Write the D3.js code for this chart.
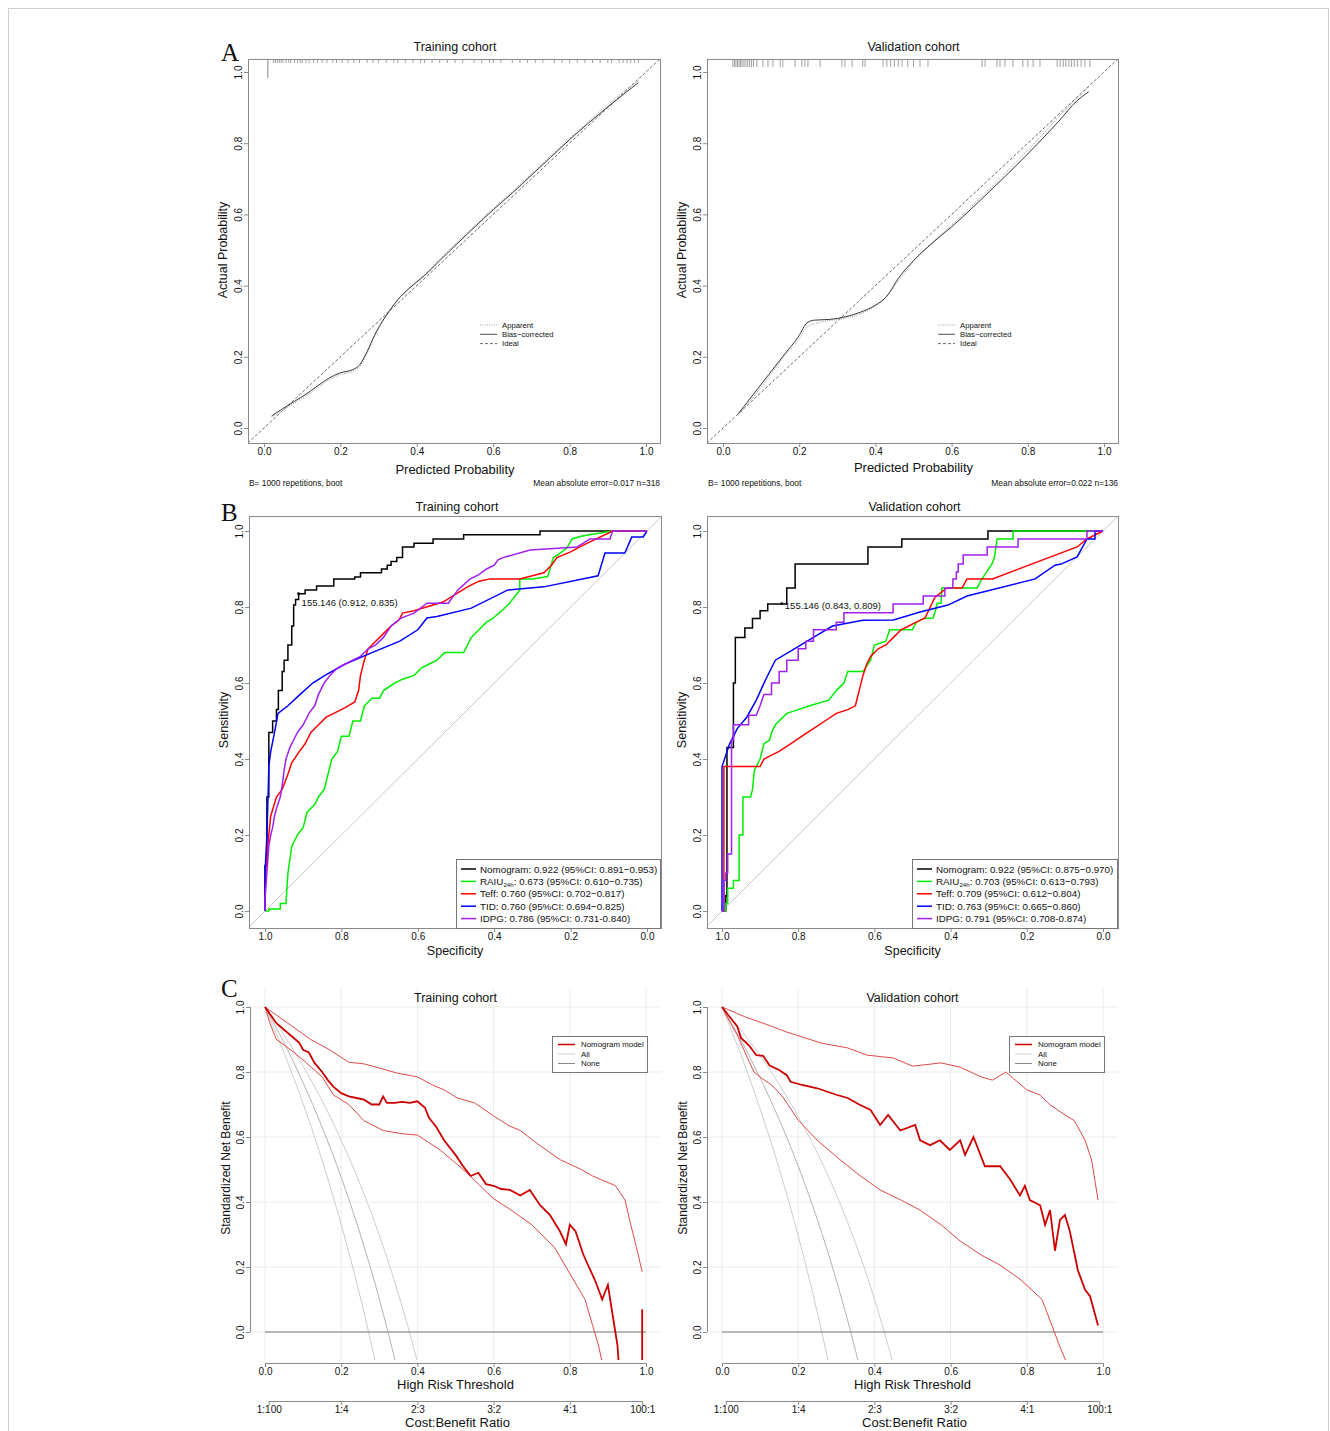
<!DOCTYPE html>
<html><head><meta charset="utf-8">
<script src="https://cdn.jsdelivr.net/npm/d3@7"></script>
<style>body{margin:0;background:#fff} svg{display:block}</style>
</head><body><script>
// ---------------- DATA ----------------
const probTicks = [0, 0.2, 0.4, 0.6, 0.8, 1.0];
const specTicks = [1.0, 0.8, 0.6, 0.4, 0.2, 0.0];
const cbTickValues = [0.0099, 0.2, 0.4, 0.6, 0.8, 0.9901];
const cbTickLabels = ["1:100", "1:4", "2:3", "3:2", "4:1", "100:1"];
const cohortTitles = ["Training cohort", "Validation cohort"];
const calLegend = ["Apparent", "Bias\u2212corrected", "Ideal"];
const calFooterLeft = ["B= 1000 repetitions, boot", "B= 1000 repetitions, boot"];
const calFooterRight = ["Mean absolute error=0.017 n=318", "Mean absolute error=0.022 n=136"];
const dcaLegend = ["Nomogram model", "All", "None"];

// calibration: [predicted, actual]
const calTrainBias = [[0.02,0.034],[0.05,0.055],[0.08,0.075],[0.11,0.095],[0.14,0.118],[0.17,0.14],[0.2,0.155],[0.23,0.163],[0.25,0.177],[0.27,0.215],[0.29,0.262],[0.31,0.3],[0.33,0.332],[0.35,0.36],[0.38,0.392],[0.42,0.428],[0.46,0.47],[0.5,0.512],[0.55,0.563],[0.6,0.613],[0.65,0.66],[0.7,0.71],[0.75,0.76],[0.8,0.81],[0.85,0.857],[0.9,0.902],[0.95,0.945],[0.98,0.97]];
const calTrainApparent = [[0.02,0.03],[0.05,0.05],[0.08,0.07],[0.11,0.09],[0.14,0.112],[0.17,0.135],[0.2,0.15],[0.23,0.158],[0.25,0.172],[0.27,0.21],[0.29,0.258],[0.31,0.298],[0.33,0.33],[0.35,0.36],[0.38,0.394],[0.42,0.432],[0.46,0.474],[0.5,0.516],[0.55,0.567],[0.6,0.617],[0.65,0.664],[0.7,0.714],[0.75,0.764],[0.8,0.814],[0.85,0.862],[0.9,0.908],[0.95,0.952],[0.98,0.975]];
const calValidBias = [[0.04,0.04],[0.08,0.095],[0.12,0.15],[0.16,0.205],[0.2,0.26],[0.22,0.295],[0.24,0.303],[0.28,0.305],[0.32,0.312],[0.36,0.325],[0.4,0.345],[0.43,0.37],[0.46,0.42],[0.5,0.47],[0.55,0.52],[0.6,0.565],[0.7,0.665],[0.8,0.77],[0.88,0.86],[0.93,0.92],[0.96,0.945]];
const calValidApparent = [[0.04,0.035],[0.1,0.115],[0.16,0.2],[0.2,0.25],[0.22,0.283],[0.26,0.298],[0.32,0.308],[0.38,0.33],[0.42,0.36],[0.46,0.412],[0.5,0.468],[0.6,0.57],[0.7,0.672],[0.8,0.78],[0.9,0.895],[0.96,0.958]];
const calTrainRug = [0.025,0.03,0.035,0.04,0.045,0.05,0.058,0.065,0.07,0.08,0.088,0.095,0.1,0.11,0.118,0.13,0.14,0.152,0.165,0.18,0.19,0.205,0.22,0.235,0.25,0.27,0.285,0.3,0.32,0.34,0.35,0.37,0.39,0.41,0.42,0.44,0.46,0.48,0.5,0.52,0.55,0.57,0.59,0.6,0.62,0.65,0.67,0.69,0.71,0.73,0.76,0.78,0.8,0.82,0.84,0.86,0.88,0.9,0.91,0.93,0.94,0.95,0.96,0.97,0.98];
const calTrainRugPeak = [0.01];
const calValidRug = [0.026,0.03,0.034,0.038,0.042,0.046,0.05,0.055,0.06,0.065,0.07,0.075,0.08,0.089,0.105,0.118,0.131,0.15,0.157,0.189,0.207,0.215,0.223,0.255,0.312,0.32,0.339,0.367,0.373,0.42,0.43,0.44,0.45,0.46,0.47,0.485,0.5,0.517,0.538,0.68,0.688,0.719,0.727,0.74,0.761,0.787,0.8,0.814,0.832,0.877,0.885,0.893,0.9,0.908,0.915,0.922,0.93,0.94,0.95,0.963];

// ROC: [specificity, sensitivity]
const rocTrainNomogram = [[1,0],[1,0.12],[0.995,0.12],[0.995,0.3],[0.99,0.3],[0.99,0.47],[0.98,0.47],[0.98,0.5],[0.97,0.5],[0.97,0.53],[0.965,0.53],[0.965,0.58],[0.955,0.58],[0.955,0.63],[0.95,0.63],[0.95,0.66],[0.94,0.66],[0.94,0.7],[0.93,0.7],[0.93,0.75],[0.925,0.75],[0.925,0.805],[0.92,0.805],[0.92,0.82],[0.912,0.82],[0.912,0.835],[0.895,0.835],[0.895,0.845],[0.865,0.845],[0.865,0.855],[0.82,0.855],[0.82,0.874],[0.765,0.874],[0.765,0.879],[0.75,0.879],[0.75,0.89],[0.695,0.89],[0.695,0.9],[0.68,0.9],[0.68,0.91],[0.67,0.91],[0.67,0.92],[0.655,0.92],[0.655,0.93],[0.64,0.93],[0.64,0.958],[0.61,0.958],[0.61,0.968],[0.56,0.968],[0.56,0.979],[0.48,0.979],[0.48,0.99],[0.28,0.99],[0.28,1.0],[0,1.0]];
const rocTrainRAIU = [[1,0],[0.99,0],[0.99,0.005],[0.96,0.005],[0.96,0.02],[0.945,0.02],[0.94,0.1],[0.93,0.17],[0.915,0.2],[0.9,0.22],[0.89,0.26],[0.87,0.28],[0.86,0.3],[0.845,0.32],[0.835,0.36],[0.825,0.4],[0.81,0.42],[0.8,0.46],[0.78,0.46],[0.77,0.5],[0.75,0.5],[0.74,0.54],[0.72,0.56],[0.7,0.56],[0.69,0.58],[0.66,0.6],[0.64,0.61],[0.61,0.62],[0.59,0.64],[0.57,0.65],[0.55,0.66],[0.53,0.68],[0.48,0.68],[0.46,0.72],[0.44,0.74],[0.42,0.76],[0.403,0.771],[0.38,0.79],[0.36,0.81],[0.333,0.845],[0.333,0.874],[0.3,0.874],[0.26,0.88],[0.245,0.93],[0.23,0.94],[0.21,0.955],[0.196,0.979],[0.17,0.987],[0.09,1.0],[0,1.0]];
const rocTrainTeff = [[1,0],[1,0.07],[0.995,0.15],[0.99,0.2],[0.985,0.25],[0.97,0.3],[0.955,0.32],[0.94,0.36],[0.93,0.39],[0.91,0.42],[0.895,0.44],[0.88,0.47],[0.86,0.49],[0.84,0.51],[0.82,0.52],[0.79,0.535],[0.765,0.55],[0.755,0.58],[0.75,0.62],[0.74,0.66],[0.73,0.69],[0.71,0.71],[0.69,0.73],[0.67,0.75],[0.65,0.765],[0.64,0.784],[0.61,0.79],[0.534,0.813],[0.47,0.853],[0.44,0.868],[0.41,0.874],[0.333,0.874],[0.27,0.89],[0.25,0.91],[0.236,0.93],[0.2,0.945],[0.168,0.962],[0.09,1.0],[0,1.0]];
const rocTrainTID = [[1,0],[1,0.1],[0.995,0.2],[0.992,0.3],[0.99,0.38],[0.985,0.42],[0.975,0.47],[0.966,0.52],[0.94,0.54],[0.908,0.57],[0.875,0.6],[0.843,0.62],[0.79,0.65],[0.72,0.68],[0.647,0.71],[0.6,0.74],[0.576,0.771],[0.55,0.775],[0.46,0.797],[0.364,0.845],[0.27,0.853],[0.128,0.882],[0.11,0.942],[0.058,0.942],[0.04,0.984],[0.01,0.984],[0,1.0]];
const rocTrainIDPG = [[1,0],[1,0.03],[0.995,0.1],[0.99,0.17],[0.985,0.2],[0.98,0.22],[0.975,0.25],[0.97,0.27],[0.96,0.3],[0.955,0.33],[0.95,0.37],[0.945,0.4],[0.935,0.43],[0.925,0.45],[0.915,0.47],[0.9,0.49],[0.885,0.52],[0.87,0.54],[0.86,0.57],[0.845,0.6],[0.83,0.62],[0.81,0.64],[0.79,0.65],[0.77,0.66],[0.75,0.67],[0.73,0.69],[0.71,0.7],[0.69,0.72],[0.67,0.75],[0.645,0.77],[0.61,0.784],[0.576,0.81],[0.52,0.81],[0.495,0.845],[0.463,0.874],[0.44,0.885],[0.42,0.9],[0.4,0.91],[0.39,0.924],[0.377,0.93],[0.306,0.95],[0.183,0.958],[0.149,0.979],[0.097,0.979],[0.09,1.0],[0,1.0]];

const rocValidNomogram = [[1,0],[0.99,0],[0.99,0.04],[0.987,0.04],[0.987,0.43],[0.97,0.43],[0.97,0.6],[0.965,0.6],[0.965,0.72],[0.94,0.72],[0.94,0.745],[0.92,0.745],[0.92,0.77],[0.9,0.77],[0.9,0.79],[0.88,0.79],[0.88,0.808],[0.83,0.808],[0.83,0.85],[0.808,0.85],[0.808,0.913],[0.617,0.913],[0.617,0.958],[0.528,0.958],[0.528,0.979],[0.302,0.979],[0.302,1.0],[0,1.0]];
const rocValidRAIU = [[1,0],[0.99,0],[0.99,0.02],[0.985,0.02],[0.985,0.06],[0.97,0.06],[0.97,0.08],[0.955,0.08],[0.955,0.2],[0.945,0.2],[0.945,0.3],[0.925,0.3],[0.92,0.32],[0.915,0.37],[0.9,0.4],[0.89,0.44],[0.875,0.45],[0.87,0.47],[0.86,0.49],[0.85,0.5],[0.83,0.52],[0.8,0.53],[0.77,0.54],[0.72,0.555],[0.7,0.58],[0.68,0.6],[0.67,0.63],[0.63,0.63],[0.61,0.66],[0.6,0.7],[0.57,0.71],[0.56,0.74],[0.5,0.74],[0.49,0.76],[0.47,0.77],[0.446,0.771],[0.44,0.79],[0.435,0.81],[0.425,0.81],[0.423,0.85],[0.33,0.85],[0.32,0.87],[0.29,0.916],[0.285,0.93],[0.278,0.979],[0.236,0.979],[0.236,1.0],[0,1.0]];
const rocValidTeff = [[1,0],[0.995,0],[0.995,0.38],[0.9,0.38],[0.89,0.4],[0.87,0.41],[0.85,0.42],[0.82,0.44],[0.79,0.46],[0.76,0.48],[0.73,0.5],[0.7,0.52],[0.67,0.53],[0.65,0.54],[0.645,0.56],[0.64,0.58],[0.63,0.62],[0.62,0.65],[0.61,0.67],[0.59,0.69],[0.57,0.7],[0.55,0.72],[0.53,0.74],[0.51,0.75],[0.49,0.76],[0.467,0.771],[0.441,0.826],[0.41,0.85],[0.37,0.85],[0.357,0.874],[0.29,0.874],[0.068,0.958],[0.042,0.979],[0,1.0]];
const rocValidTID = [[1,0],[1,0.38],[0.98,0.44],[0.96,0.48],[0.935,0.51],[0.91,0.555],[0.885,0.61],[0.86,0.66],[0.81,0.69],[0.76,0.72],[0.71,0.75],[0.63,0.765],[0.55,0.766],[0.48,0.787],[0.407,0.805],[0.357,0.829],[0.178,0.874],[0.126,0.91],[0.11,0.913],[0.068,0.932],[0.042,0.979],[0.021,0.979],[0.021,1.0],[0,1.0]];
const rocValidIDPG = [[1,0],[0.995,0],[0.995,0.08],[0.99,0.08],[0.99,0.1],[0.985,0.1],[0.985,0.15],[0.975,0.15],[0.975,0.45],[0.97,0.45],[0.97,0.49],[0.93,0.49],[0.93,0.515],[0.91,0.515],[0.9,0.54],[0.89,0.57],[0.87,0.57],[0.87,0.6],[0.85,0.6],[0.85,0.63],[0.83,0.63],[0.83,0.66],[0.8,0.66],[0.8,0.69],[0.78,0.69],[0.78,0.71],[0.76,0.71],[0.76,0.74],[0.7,0.74],[0.7,0.76],[0.68,0.76],[0.68,0.785],[0.551,0.785],[0.551,0.808],[0.472,0.808],[0.472,0.829],[0.415,0.829],[0.415,0.85],[0.394,0.85],[0.394,0.874],[0.385,0.874],[0.385,0.892],[0.38,0.892],[0.38,0.913],[0.367,0.913],[0.367,0.937],[0.304,0.937],[0.304,0.958],[0.223,0.958],[0.223,0.979],[0.042,0.979],[0.042,1.0],[0,1.0]];

const rocCutoffs = [[0.912, 0.835, "155.146 (0.912, 0.835)"], [0.843, 0.809, "155.146 (0.843, 0.809)"]];
const rocNames = ["Nomogram", "RAIU", "Teff", "TID", "IDPG"];
const rocColors = ["#000000", "#00ee00", "#ff0000", "#0000ff", "#a020f0"];
const rocTrainAUC = [": 0.922 (95%CI: 0.891\u22120.953)", ": 0.673 (95%CI: 0.610\u22120.735)", ": 0.760 (95%CI: 0.702\u22120.817)", ": 0.760 (95%CI: 0.694\u22120.825)", ": 0.786 (95%CI: 0.731-0.840)"];
const rocValidAUC = [": 0.922 (95%CI: 0.875\u22120.970)", ": 0.703 (95%CI: 0.613\u22120.793)", ": 0.709 (95%CI: 0.612\u22120.804)", ": 0.763 (95%CI: 0.665\u22120.860)", ": 0.791 (95%CI: 0.708-0.874)"];

// DCA: [threshold, standardized net benefit]
const dcaTrainModel = [[0,1],[0.03,0.95],[0.06,0.92],[0.08,0.9],[0.09,0.89],[0.1,0.868],[0.115,0.86],[0.13,0.828],[0.15,0.8],[0.165,0.775],[0.18,0.754],[0.2,0.735],[0.22,0.725],[0.24,0.72],[0.26,0.715],[0.28,0.7],[0.3,0.7],[0.31,0.725],[0.32,0.705],[0.34,0.705],[0.36,0.708],[0.38,0.705],[0.4,0.71],[0.42,0.69],[0.43,0.66],[0.45,0.63],[0.47,0.59],[0.5,0.545],[0.52,0.51],[0.54,0.48],[0.56,0.49],[0.58,0.455],[0.6,0.45],[0.62,0.44],[0.643,0.437],[0.67,0.42],[0.695,0.437],[0.722,0.39],[0.748,0.36],[0.774,0.31],[0.79,0.27],[0.8,0.33],[0.815,0.31],[0.835,0.24],[0.85,0.2],[0.866,0.16],[0.885,0.1],[0.9,0.145],[0.91,0.07],[0.925,-0.04],[0.935,-0.2],[0.99,-0.2],[0.99,0.07]];
const dcaTrainUpper = [[0,1],[0.06,0.95],[0.12,0.9],[0.17,0.868],[0.22,0.83],[0.26,0.825],[0.31,0.809],[0.345,0.797],[0.4,0.785],[0.44,0.76],[0.47,0.745],[0.505,0.72],[0.55,0.705],[0.6,0.665],[0.64,0.635],[0.67,0.62],[0.72,0.575],[0.775,0.53],[0.83,0.5],[0.86,0.48],[0.88,0.47],[0.9,0.46],[0.92,0.45],[0.945,0.406],[0.96,0.33],[0.975,0.26],[0.99,0.185]];
const dcaTrainLower = [[0,1],[0.013,0.95],[0.03,0.9],[0.058,0.877],[0.1,0.837],[0.15,0.785],[0.18,0.729],[0.22,0.7],[0.26,0.65],[0.31,0.62],[0.36,0.61],[0.4,0.606],[0.46,0.56],[0.5,0.52],[0.53,0.49],[0.56,0.455],[0.6,0.41],[0.64,0.38],[0.7,0.33],[0.76,0.26],[0.79,0.2],[0.81,0.16],[0.84,0.1],[0.86,0.02],[0.875,-0.04],[0.89,-0.12]];
const dcaTrainAll = [[0,1],[0.05,0.89],[0.1,0.767],[0.15,0.63],[0.2,0.476],[0.25,0.301],[0.3,0.102],[0.35,-0.129]];
const dcaTrainAllLow = [[0,1],[0.05,0.859],[0.1,0.703],[0.15,0.528],[0.2,0.331],[0.25,0.108],[0.3,-0.147]];
const dcaTrainAllHigh = [[0,1],[0.05,0.914],[0.1,0.818],[0.15,0.711],[0.2,0.59],[0.25,0.454],[0.3,0.298],[0.35,0.118],[0.4,-0.092],[0.42,-0.186]];

const dcaValidModel = [[0,1],[0.02,0.97],[0.04,0.94],[0.05,0.905],[0.07,0.883],[0.09,0.852],[0.108,0.85],[0.125,0.82],[0.15,0.806],[0.17,0.79],[0.18,0.77],[0.21,0.76],[0.25,0.75],[0.3,0.73],[0.33,0.72],[0.36,0.7],[0.39,0.683],[0.415,0.637],[0.436,0.668],[0.468,0.62],[0.507,0.637],[0.52,0.59],[0.546,0.575],[0.572,0.59],[0.598,0.56],[0.625,0.59],[0.638,0.545],[0.66,0.6],[0.69,0.51],[0.73,0.51],[0.756,0.47],[0.782,0.42],[0.795,0.45],[0.808,0.406],[0.835,0.39],[0.848,0.33],[0.861,0.375],[0.874,0.25],[0.887,0.345],[0.9,0.36],[0.913,0.31],[0.934,0.19],[0.953,0.13],[0.966,0.11],[0.987,0.02]];
const dcaValidUpper = [[0,1],[0.06,0.97],[0.12,0.945],[0.17,0.923],[0.21,0.908],[0.26,0.889],[0.33,0.874],[0.38,0.852],[0.45,0.843],[0.5,0.818],[0.575,0.828],[0.625,0.815],[0.68,0.785],[0.71,0.775],[0.745,0.8],[0.765,0.78],[0.8,0.745],[0.835,0.729],[0.86,0.7],[0.9,0.668],[0.925,0.65],[0.953,0.59],[0.97,0.53],[0.987,0.406]];
const dcaValidLower = [[0,1],[0.013,0.97],[0.04,0.914],[0.066,0.846],[0.084,0.8],[0.105,0.78],[0.13,0.76],[0.16,0.723],[0.2,0.652],[0.25,0.59],[0.31,0.53],[0.36,0.483],[0.415,0.437],[0.47,0.406],[0.52,0.375],[0.575,0.33],[0.625,0.28],[0.68,0.237],[0.73,0.206],[0.785,0.16],[0.84,0.1],[0.866,0.02],[0.885,-0.04],[0.903,-0.09],[0.92,-0.15]];
const dcaValidAll = [[0,1],[0.05,0.897],[0.1,0.782],[0.15,0.654],[0.2,0.51],[0.25,0.347],[0.3,0.16],[0.35,-0.055],[0.4,-0.306]];
const dcaValidAllLow = [[0,1],[0.05,0.852],[0.1,0.687],[0.15,0.503],[0.2,0.296],[0.25,0.061],[0.3,-0.207]];
const dcaValidAllHigh = [[0,1],[0.05,0.929],[0.1,0.85],[0.15,0.762],[0.2,0.663],[0.25,0.551],[0.3,0.423],[0.35,0.275],[0.4,0.102],[0.45,-0.102],[0.48,-0.24]];
const dcaNone = [[0,0],[1,0]];

// ---------------- DRAWING ----------------
const FONT = '"Liberation Sans", Arial, Helvetica, sans-serif';
const SERIF = '"Liberation Serif", "Times New Roman", serif';
const AXC = "#8a8a8a";
const svg = d3.select("body").append("svg").attr("width", 1330).attr("height", 1431)
  .attr("font-family", FONT);
svg.append("rect").attr("x", 8.5).attr("y", 8.5).attr("width", 1320).attr("height", 1430)
  .attr("fill", "none").attr("stroke", "#d0d0d0");
const defs = svg.append("defs");
let clipN = 0;
function clip(x0, y0, x1, y1) {
  const id = "clip" + (clipN++);
  defs.append("clipPath").attr("id", id).append("rect").attr("x", x0).attr("y", y0)
    .attr("width", x1 - x0).attr("height", y1 - y0);
  return "url(#" + id + ")";
}
const fmt1 = d3.format(".1f");

function txt(x, y, s, size, anchor, opts) {
  const t = svg.append("text").attr("x", x).attr("y", y).attr("font-size", size)
    .attr("text-anchor", anchor || "start").attr("fill", "#111").text(s);
  if (opts && opts.rotate) t.attr("transform", `rotate(-90,${x},${y})`);
  if (opts && opts.family) t.attr("font-family", opts.family);
  return t;
}
function bottomAxis(scale, y, ticks, fmt, labels) {
  const ax = d3.axisBottom(scale).tickValues(ticks).tickSize(4).tickSizeOuter(0).tickPadding(1);
  ax.tickFormat(labels ? ((d, i) => labels[i]) : fmt);
  const g = svg.append("g").attr("transform", `translate(0,${y})`).call(ax);
  g.select(".domain").remove();
  g.attr("font-family", FONT).attr("font-size", 10);
  g.selectAll(".tick line").attr("stroke", AXC);
  g.selectAll(".tick text").attr("fill", "#111");
  return g;
}
function leftAxis(scale, x, ticks, fmt) {
  const g = svg.append("g").attr("transform", `translate(${x},0)`)
    .call(d3.axisLeft(scale).tickValues(ticks).tickFormat(fmt).tickSize(4).tickSizeOuter(0));
  g.select(".domain").remove();
  g.attr("font-family", FONT).attr("font-size", 10);
  g.selectAll(".tick line").attr("stroke", AXC);
  g.selectAll(".tick text").attr("fill", "#111").attr("transform", "rotate(-90)")
    .attr("x", 0).attr("y", -6).attr("dy", 0).attr("text-anchor", "middle");
  return g;
}
function box(b) {
  svg.append("rect").attr("x", b[0] + 0.5).attr("y", b[1] + 0.5).attr("width", b[2] - b[0])
    .attr("height", b[3] - b[1]).attr("fill", "none").attr("stroke", AXC);
}

// ---------- Panel A: calibration ----------
const calPanels = [
  {box: [248, 59, 660, 443], x: [264, 646], y: [428, 72], bias: calTrainBias, app: calTrainApparent, rug: calTrainRug, rugPeak: calTrainRugPeak, rugH: 4, leg: [480, 325]},
  {box: [707, 59, 1118, 443], x: [723, 1104], y: [428, 72], bias: calValidBias, app: calValidApparent, rug: calValidRug, rugPeak: [], rugH: 8, leg: [938, 325]}
];
calPanels.forEach((p, i) => {
  const xs = d3.scaleLinear().domain([0, 1]).range(p.x);
  const ys = d3.scaleLinear().domain([0, 1]).range(p.y);
  const b = p.box;
  const cp = clip(b[0], b[1], b[2], b[3]);
  const g = svg.append("g").attr("clip-path", cp);
  const line = d3.line().x(d => xs(d[0])).y(d => ys(d[1]));
  g.append("path").datum([[-0.1, -0.1], [1.1, 1.1]]).attr("d", line).attr("fill", "none")
    .attr("stroke", "#444").attr("stroke-width", 0.8).attr("stroke-dasharray", "3,2");
  g.append("path").datum(p.app).attr("d", line.curve(d3.curveMonotoneX)).attr("fill", "none")
    .attr("stroke", "#888").attr("stroke-width", 0.9).attr("stroke-dasharray", "1,1.3");
  g.append("path").datum(p.bias).attr("d", line.curve(d3.curveMonotoneX)).attr("fill", "none")
    .attr("stroke", "#222").attr("stroke-width", 0.9);
  g.selectAll(".rug").data(p.rug).enter().append("line")
    .attr("x1", d => xs(d)).attr("x2", d => xs(d)).attr("y1", b[1]).attr("y2", b[1] + p.rugH)
    .attr("stroke", "#777").attr("stroke-width", 0.7);
  g.selectAll(".rugp").data(p.rugPeak).enter().append("line")
    .attr("x1", d => xs(d)).attr("x2", d => xs(d)).attr("y1", b[1]).attr("y2", b[1] + 19)
    .attr("stroke", "#999").attr("stroke-width", 1.2);
  box(b);
  bottomAxis(xs, b[3], probTicks, fmt1);
  leftAxis(ys, b[0], probTicks, fmt1);
  const cx = (p.x[0] + p.x[1]) / 2;
  txt(cx, 51, cohortTitles[i], 12.5, "middle");
  txt(cx, i === 0 ? 474 : 472, "Predicted Probability", 13, "middle");
  txt(b[0] - 21, 250, "Actual Probability", 12.5, "middle", {rotate: true});
  txt(b[0] + 1, 486, calFooterLeft[i], 8.4, "start");
  txt(b[2], 486, calFooterRight[i], 8.4, "end");
  const styles = [["#888", "1,1.3"], ["#222", null], ["#444", "3,2"]];
  calLegend.forEach((s, k) => {
    const yy = p.leg[1] + k * 9.3;
    const l = svg.append("line").attr("x1", p.leg[0]).attr("x2", p.leg[0] + 17).attr("y1", yy).attr("y2", yy)
      .attr("stroke", styles[k][0]).attr("stroke-width", 0.8);
    if (styles[k][1]) l.attr("stroke-dasharray", styles[k][1]);
    txt(p.leg[0] + 22, yy + 2.7, s, 7.7, "start");
  });
});
txt(221, 61, "A", 25, "start", {family: SERIF});

// ---------- Panel B: ROC ----------
const rocPanels = [
  {box: [249, 516, 661, 928], x: [265, 647], y: [911, 531], curves: [rocTrainNomogram, rocTrainRAIU, rocTrainTeff, rocTrainTID, rocTrainIDPG], auc: rocTrainAUC, leg: [456, 859], cutDy: 12},
  {box: [707, 516, 1118, 928], x: [722, 1103], y: [911, 531], curves: [rocValidNomogram, rocValidRAIU, rocValidTeff, rocValidTID, rocValidIDPG], auc: rocValidAUC, leg: [912, 859], cutDy: 5}
];
rocPanels.forEach((p, i) => {
  const xs = d3.scaleLinear().domain([1, 0]).range(p.x);
  const ys = d3.scaleLinear().domain([0, 1]).range(p.y);
  const b = p.box;
  const g = svg.append("g").attr("clip-path", clip(b[0], b[1], b[2], b[3]));
  const line = d3.line().x(d => xs(d[0])).y(d => ys(d[1]));
  g.append("path").datum([[1.1, -0.1], [-0.1, 1.1]]).attr("d", line).attr("fill", "none")
    .attr("stroke", "#c8c8c8").attr("stroke-width", 1);
  p.curves.forEach((c, k) => {
    g.append("path").datum(c).attr("d", line).attr("fill", "none")
      .attr("stroke", rocColors[k]).attr("stroke-width", 1.5).attr("stroke-linejoin", "miter");
  });
  const cut = rocCutoffs[i];
  svg.append("circle").attr("cx", xs(cut[0])).attr("cy", ys(cut[1])).attr("r", 1.4).attr("fill", "#000");
  txt(xs(cut[0]) + 3, ys(cut[1]) + p.cutDy, cut[2], 9.5, "start");
  box(b);
  bottomAxis(xs, b[3], specTicks, fmt1);
  leftAxis(ys, b[0], probTicks, fmt1);
  const cx = (b[0] + b[2]) / 2;
  txt(cx + 2, 511, cohortTitles[i], 12.5, "middle");
  txt(cx, 955, "Specificity", 12.5, "middle");
  txt(b[0] - 21, 720, "Sensitivity", 12.5, "middle", {rotate: true});
  const lx = p.leg[0], ly = p.leg[1];
  svg.append("rect").attr("x", lx + 0.5).attr("y", ly + 0.5).attr("width", b[2] - lx - 1).attr("height", b[3] - ly)
    .attr("fill", "#fff").attr("stroke", "#777");
  rocNames.forEach((nm, k) => {
    const yy = ly + 10 + k * 12.4;
    svg.append("line").attr("x1", lx + 5).attr("x2", lx + 20).attr("y1", yy).attr("y2", yy)
      .attr("stroke", rocColors[k]).attr("stroke-width", 1.5);
    const t = txt(lx + 24, yy + 3.5, "", 9.8, "start");
    t.append("tspan").text(nm);
    if (nm === "RAIU") {
      t.append("tspan").attr("font-size", 6.2).attr("dy", 2).text("24h");
      t.append("tspan").attr("dy", -2).text(p.auc[k]);
    } else {
      t.append("tspan").text(p.auc[k]);
    }
  });
});
txt(221, 521, "B", 25, "start", {family: SERIF});

// ---------- Panel C: DCA ----------
const dcaPanels = [
  {x: [265, 646], y: [1332, 1007], axX: 250, area: [250, 988, 661, 1360], model: dcaTrainModel, up: dcaTrainUpper, low: dcaTrainLower, all: [dcaTrainAllLow, dcaTrainAllHigh, dcaTrainAll], leg: [552, 1036]},
  {x: [722, 1103], y: [1332, 1007], axX: 707, area: [707, 988, 1118, 1360], model: dcaValidModel, up: dcaValidUpper, low: dcaValidLower, all: [dcaValidAllLow, dcaValidAllHigh, dcaValidAll], leg: [1009, 1036]}
];
dcaPanels.forEach((p, i) => {
  const xs = d3.scaleLinear().domain([0, 1]).range(p.x);
  const ys = d3.scaleLinear().domain([0, 1]).range(p.y);
  const a = p.area;
  const gg = svg.append("g");
  gg.selectAll(".vg").data(probTicks).enter().append("line")
    .attr("x1", d => xs(d)).attr("x2", d => xs(d)).attr("y1", a[1]).attr("y2", a[3])
    .attr("stroke", "#ececec").attr("stroke-width", 1);
  gg.selectAll(".hg").data(probTicks).enter().append("line")
    .attr("x1", a[0]).attr("x2", a[2]).attr("y1", d => ys(d)).attr("y2", d => ys(d))
    .attr("stroke", "#ececec").attr("stroke-width", 1);
  const g = svg.append("g").attr("clip-path", clip(a[0], a[1], a[2], a[3]));
  const line = d3.line().x(d => xs(d[0])).y(d => ys(d[1]));
  const smooth = d3.line().x(d => xs(d[0])).y(d => ys(d[1])).curve(d3.curveMonotoneX);
  p.all.forEach((c, k) => {
    g.append("path").datum(c).attr("d", smooth).attr("fill", "none")
      .attr("stroke", k === 2 ? "#b4b4b4" : "#cdcdcd").attr("stroke-width", 1);
  });
  g.append("path").datum(dcaNone).attr("d", line).attr("fill", "none").attr("stroke", "#7a7a7a").attr("stroke-width", 1);
  g.append("path").datum(p.up).attr("d", line).attr("fill", "none").attr("stroke", "#e04848").attr("stroke-width", 1);
  g.append("path").datum(p.low).attr("d", line).attr("fill", "none").attr("stroke", "#e04848").attr("stroke-width", 1);
  g.append("path").datum(p.model).attr("d", line).attr("fill", "none").attr("stroke", "#cc0000").attr("stroke-width", 1.8);
  svg.append("line").attr("x1", p.axX + 0.5).attr("x2", p.axX + 0.5).attr("y1", ys(0)).attr("y2", ys(1)).attr("stroke", AXC);
  leftAxis(ys, p.axX, probTicks, fmt1);
  svg.append("line").attr("x1", xs(0)).attr("x2", xs(1)).attr("y1", 1363.5).attr("y2", 1363.5).attr("stroke", AXC);
  bottomAxis(xs, 1363, probTicks, fmt1);
  svg.append("line").attr("x1", xs(cbTickValues[0])).attr("x2", xs(cbTickValues[5])).attr("y1", 1401.5).attr("y2", 1401.5).attr("stroke", AXC);
  bottomAxis(xs, 1401, cbTickValues, null, cbTickLabels);
  const cx = (p.x[0] + p.x[1]) / 2;
  txt(cx, 1002, cohortTitles[i], 12.5, "middle");
  txt(cx, 1389, "High Risk Threshold", 13, "middle");
  txt(cx + 2, 1427, "Cost:Benefit Ratio", 13, "middle");
  txt(p.axX - 20, 1168, "Standardized Net Benefit", 12, "middle", {rotate: true});
  const lx = p.leg[0], ly = p.leg[1];
  svg.append("rect").attr("x", lx + 0.5).attr("y", ly + 0.5).attr("width", 95).attr("height", 36)
    .attr("fill", "#fff").attr("stroke", "#777");
  const ls = [["#cc0000", 1.5], ["#cdcdcd", 1], ["#8a8a8a", 1]];
  dcaLegend.forEach((s, k) => {
    const yy = ly + 8.5 + k * 9.5;
    svg.append("line").attr("x1", lx + 6).attr("x2", lx + 23).attr("y1", yy).attr("y2", yy)
      .attr("stroke", ls[k][0]).attr("stroke-width", ls[k][1]);
    txt(lx + 29, yy + 2.6, s, 7.9, "start");
  });
});
txt(221, 997, "C", 25, "start", {family: SERIF});
</script></body></html>
